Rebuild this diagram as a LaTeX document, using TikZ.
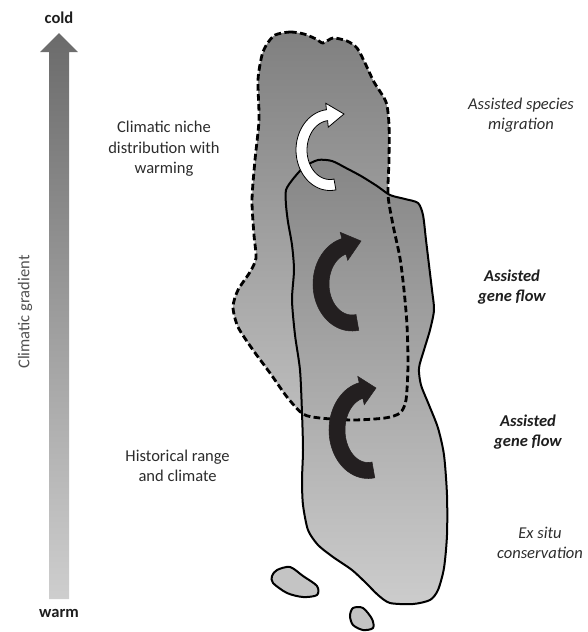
\documentclass[tikz,border=0pt]{standalone}
\usepackage{fontspec}
\setmainfont{Carlito}
\usepackage{tikz}
\usetikzlibrary{calc}
\definecolor{txtgray}{HTML}{2C2C2C}
\definecolor{boldgray}{HTML}{1E1E1E}
\definecolor{sidegray}{HTML}{505050}
\definecolor{coldgray}{HTML}{6B6B6B}
\definecolor{warmgray}{HTML}{CECECE}
\definecolor{nichetop}{HTML}{808080}
\definecolor{nichebot}{HTML}{BDBDBD}
\definecolor{rangetop}{HTML}{868686}
\definecolor{rangebot}{HTML}{CCCCCC}
\definecolor{arrowblack}{HTML}{231F20}
% outlines in pixel coordinates of the figure (y grows downwards)
\newcommand{\nicheoutline}{plot[smooth cycle, tension=0.45] coordinates {
  (275,35) (290,32) (304,34) (316,39) (323,43) (333,38) (347,41) (357,48)
  (365,63) (374,82) (386,102) (389,125) (389,160) (388,195) (393,225)
  (400,258) (404,290) (407,325) (408,365) (406,400) (400,413) (385,418)
  (353,420) (320,418) (303,414) (287,397) (270,373) (253,350) (238,327)
  (233,307) (238,290) (250,272) (256,258) (254,235) (252,200) (255,160)
  (259,120) (258,80) (262,55) (267,44)}}
\newcommand{\rangeoutline}{plot[smooth cycle, tension=0.45] coordinates {
  (286,190) (293,179) (304,167) (318,160) (332,161) (346,168) (361,176)
  (377,186) (390,195) (405,199) (418,203) (423,215) (426,240) (429,265)
  (432,290) (434,310) (430,330) (424,350) (419,368) (421,385) (429,405)
  (438,428) (444,455) (447,495) (447,535) (444,568) (438,590) (430,600)
  (413,604) (390,603) (378,595) (366,583) (352,570) (333,557) (318,545)
  (308,530) (303,505) (302,480) (303,450) (302,413) (300,370) (295,335)
  (292,300) (294,270) (292,245) (288,222) (286,205)}}
% curved arrow: cx, cy, rx, ry, half width, end angle, tip x, tip y, style
\newcommand{\bendarrow}[9]{%
  \filldraw[#9] plot[domain=80:#6, samples=40] ({#1+(#3+#5)*cos(\x)},{#2+(#4+#5)*sin(\x)})
    -- ({#1+(#3+#5+6.5)*cos(#6)},{#2+(#4+#5+6.5)*sin(#6)})
    -- (#7,#8)
    -- ({#1+(#3-#5-6.5)*cos(#6)},{#2+(#4-#5-6.5)*sin(#6)})
    -- plot[domain=#6:80, samples=40] ({#1+(#3-#5)*cos(\x)},{#2+(#4-#5)*sin(\x)})
    -- cycle;}

\begin{document}
\begin{tikzpicture}[x=0.75pt, y=-0.75pt,
  lbl/.style={font=\fontsize{12.4}{15.4}\selectfont, text=txtgray, align=center, inner sep=0pt},
  act/.style={lbl, font=\fontsize{12.4}{15.4}\selectfont\itshape},
  actbf/.style={lbl, text=boldgray, font=\fontsize{12.4}{15.4}\selectfont\bfseries\itshape},
  endlbl/.style={lbl, text=boldgray, font=\fontsize{12.4}{15.4}\selectfont\bfseries},
  dashline/.style={line width=2.1pt, dash pattern=on 5pt off 2.5pt},
  rangeline/.style={line width=1.5pt}
]
  \useasboundingbox (0,0) rectangle (588,632);

  % climatic gradient arrow
  \shade[top color=coldgray, bottom color=warmgray]
    (49,599) -- (49,52) -- (40,52) -- (59,33) -- (78,52) -- (69,52) -- (69,599) -- cycle;
  \node[endlbl] (cold) at (59,18) {cold};
  \node[endlbl] (warm) at (59,613) {warm};
  \node[lbl, text=sidegray, rotate=90] (gradlbl) at (25,312) {Climatic gradient};

  % niche and range
  \shade[top color=nichetop, bottom color=nichebot] \nicheoutline;
  \shade[top color=rangetop, bottom color=rangebot] \rangeoutline;
  \draw[dashline] \nicheoutline;
  \draw[rangeline] \rangeoutline;
  \filldraw[fill=nichebot!90!white, rangeline] plot[smooth cycle, tension=0.5] coordinates {
    (277,570) (290,567) (303,576) (317,586) (317,595) (303,597) (287,593) (273,583) (272,576)};
  \filldraw[fill=nichebot!90!white, rangeline] plot[smooth cycle, tension=0.5] coordinates {
    (353,608) (363,608) (372,619) (373,628) (363,630) (353,625) (350,616)};

  % movements
  \bendarrow{330}{150}{28.5}{35}{5.5}{264}{344}{114}{fill=white, draw=black, line width=0.6pt}
  \bendarrow{352}{284}{31}{39}{8}{255}{361}{241}{fill=arrowblack, draw=arrowblack}
  \bendarrow{368}{430}{31}{40.5}{8}{257}{376}{388}{fill=arrowblack, draw=arrowblack}

  \node[lbl, anchor=east] (nichelbl) at (220,149) {Climatic niche\\distribution with\\warming};
  \node[lbl, anchor=east] (histlbl) at (230,466) {Historical range\\and climate};
  \node[act] (migr) at (521,115) {Assisted species\\migration};
  \node[actbf] (flowA) at (512,287) {Assisted\\gene flow};
  \node[actbf] (flowB) at (528,432) {Assisted\\gene flow};
  \node[act] (exsitu) at (540,543) {Ex situ\\conservation};
\end{tikzpicture}
\end{document}
